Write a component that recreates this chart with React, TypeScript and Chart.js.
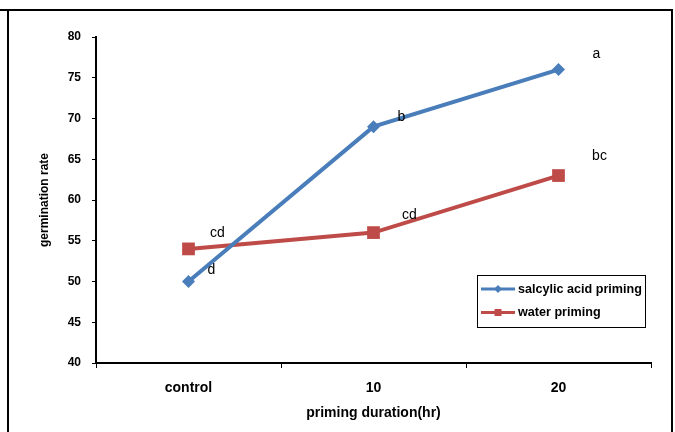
import React, { useEffect, useRef } from "react";
import { Chart, registerables } from "chart.js";

Chart.register(...registerables);

const categories = ["control", "10", "20"];
const salicylicValues = [50, 69, 76];
const waterValues = [54, 56, 63];
const salicylicLetters = ["d", "b", "a"];
const waterLetters = ["cd", "cd", "bc"];
const seriesNames = ["salcylic acid priming", "water priming"];
const yMin = 40;
const yMax = 80;
const yStep = 5;
const xTitle = "priming duration(hr)";
const yTitle = "germination rate";

const BLUE = "#4A7EBB";
const RED = "#BE4B48";
const FONT = "'Liberation Sans', Arial, sans-serif";

// label offsets (px) relative to each point
const salicylicOffsets = [
  [23, -11],
  [28, -10],
  [38, -15],
];
const waterOffsets = [
  [29, -16],
  [36, -17],
  [41, -19],
];

const overlayPlugin = {
  id: "overlay",
  afterDraw(chart: any) {
    const ctx = chart.ctx as CanvasRenderingContext2D;
    const H = chart.height;
    ctx.save();
    // frame
    ctx.strokeStyle = "#000";
    ctx.lineWidth = 2;
    ctx.beginPath();
    ctx.moveTo(0, 10);
    ctx.lineTo(673, 10);
    ctx.moveTo(8, 10);
    ctx.lineTo(8, H);
    ctx.moveTo(672, 10);
    ctx.lineTo(672, H);
    ctx.stroke();

    // letters
    ctx.fillStyle = "#000";
    ctx.font = `14px ${FONT}`;
    ctx.textAlign = "center";
    ctx.textBaseline = "middle";
    const drawLetters = (dsIndex: number, letters: string[], offs: number[][]) => {
      const meta = chart.getDatasetMeta(dsIndex);
      meta.data.forEach((pt: any, i: number) => {
        ctx.fillText(letters[i], pt.x + offs[i][0], pt.y + offs[i][1]);
      });
    };
    drawLetters(0, salicylicLetters, salicylicOffsets);
    drawLetters(1, waterLetters, waterOffsets);

    // legend
    const bx = 477, by = 275, bw = 168, bh = 52;
    ctx.fillStyle = "#fff";
    ctx.fillRect(bx, by, bw, bh);
    ctx.strokeStyle = "#000";
    ctx.lineWidth = 1;
    ctx.strokeRect(bx + 0.5, by + 0.5, bw, bh);
    const rows = [
      { y: 289, color: BLUE, style: "diamond", name: seriesNames[0] },
      { y: 312.5, color: RED, style: "square", name: seriesNames[1] },
    ];
    rows.forEach((r) => {
      ctx.strokeStyle = r.color;
      ctx.lineWidth = 3;
      ctx.beginPath();
      ctx.moveTo(481, r.y);
      ctx.lineTo(515, r.y);
      ctx.stroke();
      ctx.fillStyle = r.color;
      const cx = 498;
      if (r.style === "diamond") {
        ctx.beginPath();
        ctx.moveTo(cx - 4, r.y);
        ctx.lineTo(cx, r.y - 4);
        ctx.lineTo(cx + 4, r.y);
        ctx.lineTo(cx, r.y + 4);
        ctx.closePath();
        ctx.fill();
      } else {
        ctx.fillRect(cx - 3.5, r.y - 3.5, 7, 7);
      }
      ctx.fillStyle = "#000";
      ctx.font = `bold 12.6px ${FONT}`;
      ctx.textAlign = "left";
      ctx.textBaseline = "middle";
      ctx.fillText(r.name, 518, r.y + 0.5);
    });
    ctx.restore();
  },
};

export default function App() {
  const ref = useRef<HTMLCanvasElement | null>(null);
  useEffect(() => {
    if (!ref.current) return;
    const chart = new Chart(ref.current, {
      type: "line",
      data: {
        labels: categories,
        datasets: [
          {
            label: seriesNames[0],
            data: salicylicValues,
            borderColor: BLUE,
            backgroundColor: BLUE,
            borderWidth: 4,
            pointStyle: "rectRot",
            pointRadius: 6.5,
            pointBorderWidth: 0,
            tension: 0,
          },
          {
            label: seriesNames[1],
            data: waterValues,
            borderColor: RED,
            backgroundColor: RED,
            borderWidth: 4,
            pointStyle: "rect",
            pointRadius: 9,
            pointBorderWidth: 0,
            tension: 0,
          },
        ],
      },
      options: {
        responsive: false,
        devicePixelRatio: 1,
        animation: false,
        layout: { padding: { left: 0, right: 24, top: 37, bottom: 0 } },
        plugins: {
          legend: { display: false },
          tooltip: { enabled: false },
        },
        scales: {
          x: {
            type: "category",
            offset: true,
            grid: {
              offset: true,
              drawOnChartArea: false,
              drawTicks: true,
              tickLength: 5,
              color: "#000",
              lineWidth: 1,
            },
            border: { display: true, color: "#000", width: 2 },
            ticks: {
              color: "#000",
              font: { family: FONT, size: 14, weight: "bold" },
              padding: 12,
              maxRotation: 0,
            },
            title: {
              display: true,
              text: xTitle,
              color: "#000",
              font: { family: FONT, size: 14, weight: "bold" },
              padding: { top: 0, bottom: 10.5 },
            },
            afterFit(scale: any) {
              scale.height = 69;
            },
          },
          y: {
            min: yMin,
            max: yMax,
            grid: {
              drawOnChartArea: false,
              drawTicks: true,
              tickLength: 4,
              color: "#000",
              lineWidth: 1,
            },
            border: { display: true, color: "#000", width: 2 },
            ticks: {
              stepSize: yStep,
              color: "#000",
              font: { family: FONT, size: 12, weight: "bold" },
              padding: 11,
            },
            title: {
              display: true,
              text: yTitle,
              color: "#000",
              font: { family: FONT, size: 12, weight: "bold" },
              padding: { top: 37, bottom: 0 },
            },
            afterFit(scale: any) {
              scale.width = 96;
            },
          },
        },
      } as any,
      plugins: [overlayPlugin],
    });
    return () => chart.destroy();
  }, []);
  return (
    <div style={{ position: "absolute", left: 0, top: 0, width: 675, height: 432, background: "#fff" }}>
      <canvas ref={ref} width={675} height={432} style={{ display: "block" }} />
    </div>
  );
}
